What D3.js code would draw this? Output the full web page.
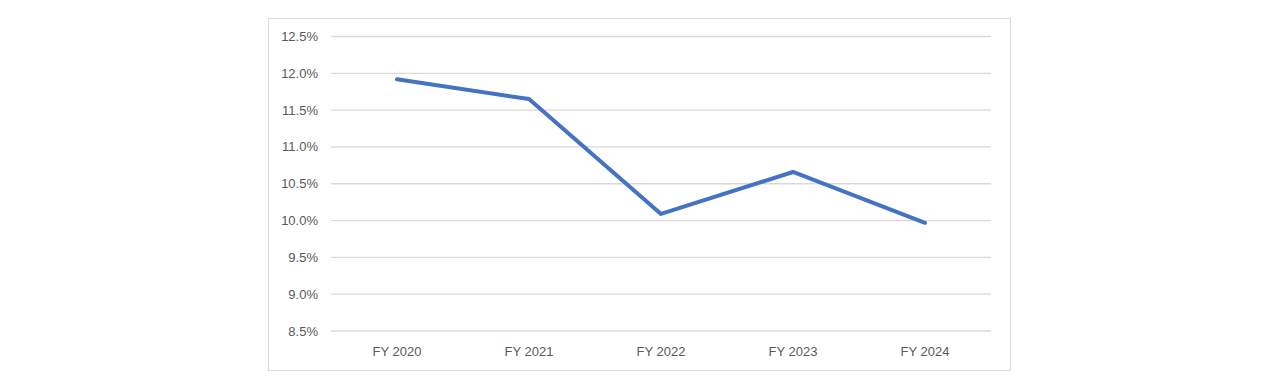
<!DOCTYPE html>
<html><head><meta charset="utf-8">
<script src="https://cdn.jsdelivr.net/npm/d3@7"></script>
<style>body{margin:0;background:#fff;}svg{display:block;}</style>
</head><body>
<svg id="c" width="1280" height="382"></svg>
<script>
const categories = ["FY 2020","FY 2021","FY 2022","FY 2023","FY 2024"];
const values = [11.92, 11.65, 10.09, 10.66, 9.97];
const yTicks = [8.5, 9.0, 9.5, 10.0, 10.5, 11.0, 11.5, 12.0, 12.5];

const svg = d3.select("#c");
svg.append("rect").attr("x",268.5).attr("y",18.5).attr("width",742).attr("height",352)
  .attr("fill","#fff").attr("stroke","#d9d9d9").attr("stroke-width",1);

const x = d3.scaleBand().domain(categories).range([331,991]);
const y = d3.scaleLinear().domain([8.5,12.5]).range([331,36.5]);
const font = "'Liberation Sans', Arial, sans-serif";

const g = svg.append("g");
g.selectAll("line.grid").data(yTicks).join("line").attr("class","grid")
  .attr("x1",331).attr("x2",991).attr("y1",d=>y(d)).attr("y2",d=>y(d))
  .attr("stroke","#d9d9d9").attr("stroke-width",1.3);

g.selectAll("text.yl").data(yTicks).join("text").attr("class","yl")
  .attr("x",318).attr("y",d=>y(d)).attr("dy","0.35em").attr("text-anchor","end")
  .attr("font-family",font).attr("font-size",13).attr("fill","#595959")
  .text(d=>d3.format(".1f")(d)+"%");

g.selectAll("text.xl").data(categories).join("text").attr("class","xl")
  .attr("x",d=>x(d)+x.bandwidth()/2).attr("y",351).attr("dy","0.35em").attr("text-anchor","middle")
  .attr("font-family",font).attr("font-size",13).attr("fill","#595959")
  .text(d=>d);

const line = d3.line().x((d,i)=>x(categories[i])+x.bandwidth()/2).y(d=>y(d));
g.append("path").datum(values).attr("d",line).attr("fill","none")
  .attr("stroke","#4472C4").attr("stroke-width",4).attr("stroke-linejoin","round").attr("stroke-linecap","round");
</script>
</body></html>
